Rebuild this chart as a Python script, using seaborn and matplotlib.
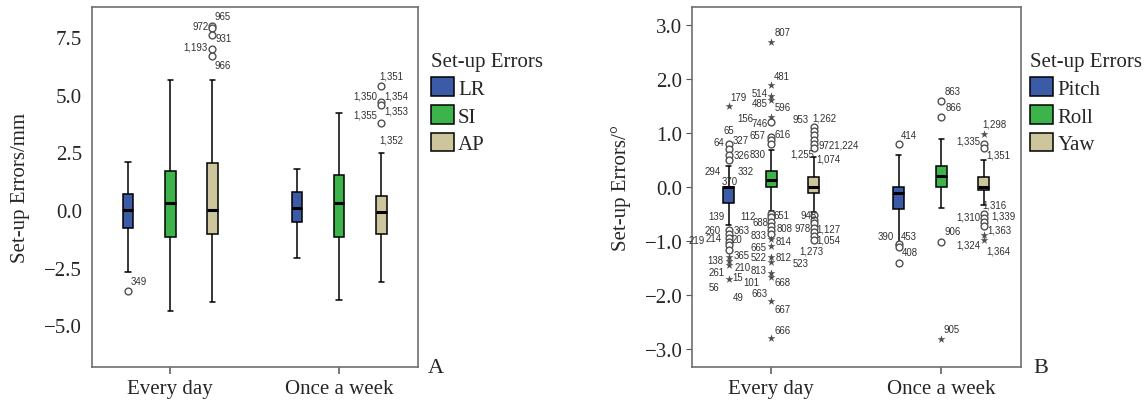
import pandas as pd
import seaborn as sns
import matplotlib.pyplot as plt

sns.set_style("ticks")
plt.rcParams['font.family'] = ['Liberation Serif', 'DejaVu Serif']
plt.rcParams['axes.unicode_minus'] = True

GROUPS = ["Every day", "Once a week"]
A_HUES = ["LR", "SI", "AP"]
B_HUES = ["Pitch", "Roll", "Yaw"]
COLORS = ["#3b5ba6", "#3cb44b", "#cdc69c"]

# box = [lower whisker, Q1, median, Q3, upper whisker] for (Every day, Once a week)
lr_box = [[-2.70, -0.79, 0.00, 0.71, 2.09], [-2.09, -0.50, 0.10, 0.79, 1.80]]
si_box = [[-4.40, -1.17, 0.30, 1.70, 5.62], [-3.91, -1.17, 0.30, 1.54, 4.21]]
ap_box = [[-3.99, -1.02, 0.00, 2.02, 5.62], [-3.10, -1.02, -0.10, 0.63, 2.49]]

pitch_box = [[-0.70, -0.30, 0.00, 0.00, 0.39], [-1.07, -0.41, -0.10, 0.00, 0.59]]
roll_box = [[-0.44, 0.00, 0.14, 0.30, 0.69], [-0.39, 0.00, 0.20, 0.40, 0.89]]
yaw_box = [[-0.46, -0.10, 0.00, 0.19, 0.57], [-0.33, -0.05, 0.00, 0.19, 0.50]]

# outliers: (group, hue, value, marker)  o = outlier, * = extreme
a_outliers = [
    ("Every day", "LR", -3.50, "o"),
    ("Every day", "AP", 8.00, "o"), ("Every day", "AP", 7.90, "o"),
    ("Every day", "AP", 7.60, "o"), ("Every day", "AP", 7.00, "o"),
    ("Every day", "AP", 6.70, "o"),
    ("Once a week", "AP", 5.38, "o"), ("Once a week", "AP", 4.69, "o"),
    ("Once a week", "AP", 4.57, "o"), ("Once a week", "AP", 3.79, "o"),
]

pitch_day_hi = [0.80, 0.70, 0.60, 0.50]
pitch_day_lo = [-0.80, -0.87, -0.94, -1.01, -1.08, -1.16]
pitch_day_star = [1.50, -1.30, -1.37, -1.44, -1.70]
roll_day_circ = [1.21, 0.93, 0.87, 0.81, -0.49, -0.56, -0.64, -0.72, -0.80, -0.87]
roll_day_star = [2.70, 1.90, 1.70, 1.61, 1.30, -0.96, -1.09, -1.29, -1.39, -1.59, -1.67, -2.11, -2.80]
yaw_day_circ = [1.12, 1.04, 0.96, 0.88, 0.81, 0.73, -0.52, -0.60, -0.67, -0.75, -0.83, -0.91, -0.98]
pitch_week_circ = [0.80, -1.05, -1.10, -1.40]
roll_week_circ = [1.59, 1.31, -1.01]
roll_week_star = [-2.81]
yaw_week_circ = [0.81, 0.72, -0.49, -0.57, -0.64, -0.71]
yaw_week_star = [0.99, -0.89, -0.98]

b_outliers = (
    [("Every day", "Pitch", v, "o") for v in pitch_day_hi + pitch_day_lo]
    + [("Every day", "Pitch", v, "*") for v in pitch_day_star]
    + [("Every day", "Roll", v, "o") for v in roll_day_circ]
    + [("Every day", "Roll", v, "*") for v in roll_day_star]
    + [("Every day", "Yaw", v, "o") for v in yaw_day_circ]
    + [("Once a week", "Pitch", v, "o") for v in pitch_week_circ]
    + [("Once a week", "Roll", v, "o") for v in roll_week_circ]
    + [("Once a week", "Roll", v, "*") for v in roll_week_star]
    + [("Once a week", "Yaw", v, "o") for v in yaw_week_circ]
    + [("Once a week", "Yaw", v, "*") for v in yaw_week_star]
)

# case-number labels: (group, hue, y of text, text, x shift in px)
a_labels = [
    ("Every day", "LR", -3.07, "349", 11),
    ("Every day", "AP", 8.43, "965", 10), ("Every day", "AP", 7.97, "972", -12),
    ("Every day", "AP", 7.45, "931", 11), ("Every day", "AP", 7.09, "1,193", -17),
    ("Every day", "AP", 6.30, "966", 10),
    ("Once a week", "AP", 5.84, "1,351", 10), ("Once a week", "AP", 4.95, "1,350", -16),
    ("Once a week", "AP", 4.95, "1,354", 15), ("Once a week", "AP", 4.31, "1,353", 15),
    ("Once a week", "AP", 4.15, "1,355", -16), ("Once a week", "AP", 3.07, "1,352", 10),
]
b_labels = [
    ("Every day", "Pitch", 1.67, "179", 10), ("Every day", "Pitch", 1.06, "65", 0),
    ("Every day", "Pitch", 0.84, "64", -10), ("Every day", "Pitch", 0.87, "327", 12),
    ("Every day", "Pitch", 0.59, "326", 13), ("Every day", "Pitch", 0.31, "294", -16),
    ("Every day", "Pitch", 0.31, "332", 17), ("Every day", "Pitch", 0.12, "370", 1),
    ("Every day", "Pitch", -0.53, "139", -12), ("Every day", "Pitch", -0.53, "112", 19),
    ("Every day", "Pitch", -0.80, "260", -16), ("Every day", "Pitch", -0.80, "363", 13),
    ("Every day", "Pitch", -0.97, "219", -32), ("Every day", "Pitch", -0.95, "214", -15),
    ("Every day", "Pitch", -0.96, "20", 8), ("Every day", "Pitch", -1.26, "365", 13),
    ("Every day", "Pitch", -1.35, "138", -13), ("Every day", "Pitch", -1.47, "210", 14),
    ("Every day", "Pitch", -1.57, "261", -12), ("Every day", "Pitch", -1.66, "15", 9),
    ("Every day", "Pitch", -1.75, "101", 23), ("Every day", "Pitch", -1.85, "56", -15),
    ("Every day", "Pitch", -2.04, "49", 9),
    ("Every day", "Roll", 2.88, "807", 11), ("Every day", "Roll", 2.07, "481", 10),
    ("Every day", "Roll", 1.75, "514", -12), ("Every day", "Roll", 1.57, "485", -12),
    ("Every day", "Roll", 1.48, "596", 11), ("Every day", "Roll", 1.29, "156", -26),
    ("Every day", "Roll", 1.20, "746", -12), ("Every day", "Roll", 0.96, "657", -14),
    ("Every day", "Roll", 0.99, "616", 11), ("Every day", "Roll", 0.62, "830", -14),
    ("Every day", "Roll", -0.52, "651", 10), ("Every day", "Roll", -0.64, "688", -11),
    ("Every day", "Roll", -0.76, "808", 13), ("Every day", "Roll", -0.89, "833", -13),
    ("Every day", "Roll", -0.99, "814", 12), ("Every day", "Roll", -1.10, "665", -13),
    ("Every day", "Roll", -1.30, "522", -13), ("Every day", "Roll", -1.30, "812", 12),
    ("Every day", "Roll", -1.41, "523", 29), ("Every day", "Roll", -1.54, "813", -13),
    ("Every day", "Roll", -1.76, "668", 11), ("Every day", "Roll", -1.97, "663", -12),
    ("Every day", "Roll", -2.25, "667", 11), ("Every day", "Roll", -2.64, "666", 11),
    ("Every day", "Yaw", 1.27, "953", -13), ("Every day", "Yaw", 1.29, "1,262", 11),
    ("Every day", "Yaw", 0.79, "9721,224", 25), ("Every day", "Yaw", 0.62, "1,255", -12),
    ("Every day", "Yaw", 0.53, "1,074", 15), ("Every day", "Yaw", -0.51, "948", -5),
    ("Every day", "Yaw", -0.76, "978", -11), ("Every day", "Yaw", -0.76, "1,127", 15),
    ("Every day", "Yaw", -0.97, "1,054", 15), ("Every day", "Yaw", -1.18, "1,273", -2),
    ("Once a week", "Pitch", 0.96, "414", 10), ("Once a week", "Pitch", -0.90, "390", -13),
    ("Once a week", "Pitch", -0.90, "453", 10), ("Once a week", "Pitch", -1.20, "408", 11),
    ("Once a week", "Roll", 1.78, "863", 11), ("Once a week", "Roll", 1.49, "866", 12),
    ("Once a week", "Roll", -0.81, "906", 11), ("Once a week", "Roll", -2.63, "905", 10),
    ("Once a week", "Yaw", 1.18, "1,298", 11), ("Once a week", "Yaw", 0.86, "1,335", -15),
    ("Once a week", "Yaw", 0.61, "1,351", 15), ("Once a week", "Yaw", -0.32, "1,316", 11),
    ("Once a week", "Yaw", -0.54, "1,310", -15), ("Once a week", "Yaw", -0.52, "1,339", 20),
    ("Once a week", "Yaw", -0.78, "1,363", 16), ("Once a week", "Yaw", -1.06, "1,324", -15),
    ("Once a week", "Yaw", -1.18, "1,364", 15),
]

DODGE = 0.25


def xpos(group, hue, hues):
    return GROUPS.index(group) + (hues.index(hue) - 1) * DODGE


def draw_panel(ax, hues, boxes, outliers, labels, ylim, yticks, ylabel, tick_len, leg_x):
    rows = []
    for hue, box in zip(hues, boxes):
        for g, vals in zip(GROUPS, box):
            for v in vals:
                rows.append({"freq": g, "axis": hue, "err": v})
    df = pd.DataFrame(rows)

    sns.boxplot(data=df, x="freq", y="err", hue="axis", order=GROUPS, hue_order=hues,
                palette=COLORS, whis=(0, 100), width=0.75, gap=0.75,
                linecolor="black", linewidth=1.1, showfliers=False, saturation=1,
                medianprops={"linewidth": 2.2}, ax=ax)

    out = pd.DataFrame(outliers, columns=["freq", "axis", "err", "kind"])
    out["x"] = [xpos(g, h, hues) for g, h in zip(out["freq"], out["axis"])]
    circ = out[out["kind"] == "o"]
    star = out[out["kind"] == "*"]
    ax.scatter(circ["x"], circ["err"], s=24, facecolor="white", edgecolor="#505050",
               linewidth=1.0, zorder=5)
    if len(star):
        ax.scatter(star["x"], star["err"], s=36, marker="*", color="#505050",
                   linewidth=0, zorder=5)

    for g, h, y, txt, dx in labels:
        ax.annotate(txt, xy=(xpos(g, h, hues), y), xytext=(dx, 0),
                    textcoords="offset pixels", ha="center", va="center",
                    fontsize=6.9, color="#303030", family=["Liberation Sans", "DejaVu Sans"],
                    zorder=6)

    ax.set_xlim(-0.465, 1.467)
    ax.set_ylim(*ylim)
    ax.set_yticks(yticks)
    ax.set_yticklabels([f"{t:.1f}".replace("-", "\u2212") for t in yticks])
    ax.set_xlabel("")
    ax.set_ylabel(ylabel, fontsize=15, labelpad=10)
    ax.tick_params(axis="y", labelsize=15, length=tick_len, pad=7 - tick_len,
                   color="#555555")
    ax.tick_params(axis="x", labelsize=15, length=5, width=1.1, pad=4, color="#555555")
    for sp in ax.spines.values():
        sp.set_visible(True)
        sp.set_color("#707070")
        sp.set_linewidth(1.2)

    handles, labs = ax.get_legend_handles_labels()
    ax.legend(handles, labs, title="Set-up Errors", loc="upper left",
              bbox_to_anchor=(leg_x, 0.875), frameon=False, fontsize=15,
              title_fontsize=15, handlelength=1.1, handleheight=1.0,
              handletextpad=0.2, labelspacing=0.3, borderaxespad=0,
              borderpad=0, alignment="left")


fig = plt.figure(figsize=(11.48, 4.06), dpi=100)
ax_a = fig.add_axes([0.080, 0.094, 0.284, 0.886])
ax_b = fig.add_axes([0.603, 0.094, 0.286, 0.886])

draw_panel(ax_a, A_HUES, [lr_box, si_box, ap_box], a_outliers, a_labels,
           (-6.8, 8.8), [-5.0, -2.5, 0.0, 2.5, 5.0, 7.5], "Set-up Errors/mm", 0, 1.04)
draw_panel(ax_b, B_HUES, [pitch_box, roll_box, yaw_box], b_outliers, b_labels,
           (-3.33, 3.34), [-3.0, -2.0, -1.0, 0.0, 1.0, 2.0, 3.0], "Set-up Errors/\u00b0", 4, 1.03)

fig.text(0.373, 0.081, "A", fontsize=16)
fig.text(0.900, 0.081, "B", fontsize=16)

fig.savefig("out.png", dpi=100)
